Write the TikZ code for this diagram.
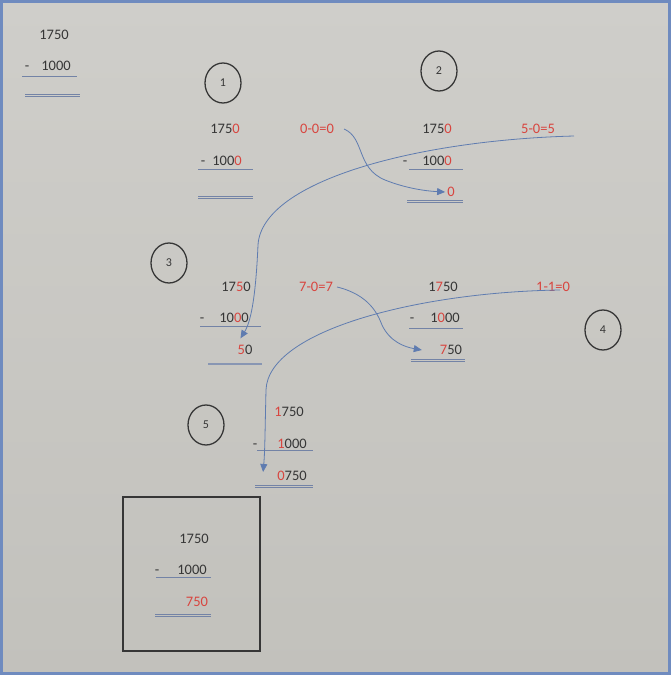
\documentclass[tikz,border=0pt]{standalone}
\usepackage{fontspec}
\setmainfont{Carlito}
\usepackage{xcolor}
\usetikzlibrary{arrows.meta, positioning, shapes.geometric}

\definecolor{digitred}{HTML}{D8453F}
\definecolor{digitgray}{HTML}{363636}
\definecolor{rulecol}{HTML}{7383A6}
\definecolor{arrowcol}{HTML}{5F7CB0}
\definecolor{framecol}{HTML}{6F8BBF}
\definecolor{bgtop}{HTML}{CFCECA}
\definecolor{bgbottom}{HTML}{C2C1BC}
\newcommand{\rd}[1]{\textcolor{digitred}{#1}}

\begin{document}
\begin{tikzpicture}[x=1pt, y=-1pt,
  num/.style={text=digitgray, font=\fontsize{14.5}{16}\selectfont, inner sep=0pt,
    text height=9pt, text depth=0pt},
  stepmark/.style={draw=digitgray, ellipse, line width=1.3pt, minimum width=36pt,
    minimum height=40pt, inner sep=0pt, text=digitgray, font=\fontsize{12}{14}\selectfont},
  rule/.style={draw=rulecol, line width=0.9pt},
  flow/.style={draw=arrowcol, line width=0.8pt, -{Triangle[length=8pt, width=7pt]}}
]
  \useasboundingbox (0,0) rectangle (671,675);
  % Background and frame
  \shade[top color=bgtop, bottom color=bgbottom] (0,0) rectangle (671,675);
  \draw[framecol, line width=3pt] (1.5,1.5) rectangle (669.5,673.5);

  % Step marks
  \foreach \n/\x/\y in {1/223/83, 2/439/71, 3/169/263, 4/603/330, 5/206/425}{
    \node[stepmark] (s\n) at (\x,\y) {\n};
  }

  % Starting sum
  \node[num] (a1) at (54,35) {1750};
  \node[num] (am) at (27,66) {-};
  \node[num] (a2) at (56,66) {1000};
  \draw[rule] (22,76) -- (77,76);

  % Step 1
  \node[num] (b1) at (225,129) {175\rd{0}};
  \node[num] (beq) at (317,129) {\rd{0-0=0}};
  \node[num] (bm) at (203,161) {-};
  \node[num] (b2) at (227,161) {100\rd{0}};
  \draw[rule] (198,169) -- (253,169);

  % Step 2
  \node[num] (c1) at (437,129) {175\rd{0}};
  \node[num] (ceq) at (538,129) {\rd{5-0=5}};
  \node[num] (cm) at (405,161) {-};
  \node[num] (c2) at (437,161) {100\rd{0}};
  \draw[rule] (409,169) -- (463,169);
  \node[num] (c3) at (451,192) {\rd{0}};

  % Step 3
  \node[num] (d1) at (236,287) {17\rd{5}0};
  \node[num] (deq) at (316,287) {\rd{7-0=7}};
  \node[num] (dm) at (202,318) {-};
  \node[num] (d2) at (234,318) {10\rd{0}0};
  \draw[rule] (200,326) -- (261,326);
  \node[num] (d3) at (245,350) {\rd{5}0};
  \draw[rule, line width=2.5pt, draw=rulecol!85] (208,364) -- (262,364);

  % Step 4
  \node[num] (e1) at (443,287) {1\rd{7}50};
  \node[num] (eeq) at (553,287) {\rd{1-1=0}};
  \node[num] (em) at (412,318) {-};
  \node[num] (e2) at (445,318) {1\rd{0}00};
  \draw[rule] (409,328) -- (463,328);
  \node[num] (e3) at (451,350) {\rd{7}50};

  % Step 5
  \node[num] (f1) at (289,412) {\rd{1}750};
  \node[num] (fm) at (255,444) {-};
  \node[num] (f2) at (292,444) {\rd{1}000};
  \draw[rule] (257,450) -- (313,450);
  \node[num] (f3) at (292,476) {\rd{0}750};

  % Result
  \draw[draw=digitgray, line width=1.3pt] (123,497) rectangle (260,651);
  \node[num] (g1) at (194,539) {1750};
  \node[num] (gm) at (157,570) {-};
  \node[num] (g2) at (192,570) {1000};
  \draw[rule] (156,577) -- (211,577);
  \node[num] (g3) at (197,602) {\rd{750}};

  % Double rules
  \foreach \xa/\xb/\y in {25/80/94, 198/253/196, 407/463/200, 411/465/359, 255/313/485, 155/211/614}{
    \draw[rule] (\xa,\y) -- (\xb,\y);
    \draw[rule] (\xa,\y+2.6) -- (\xb,\y+2.6);
  }

  % Carries
  \coordinate (ctail) at (574,136);
  \coordinate (etail) at (560,290);
  \draw[flow] ([xshift=10pt]beq.east) .. controls (365,138) and (356,168) .. (385,180)
    .. controls (405,188) and (425,191) .. ([xshift=-2pt]c3.west);
  \draw[flow] (ctail) .. controls (420,140) and (262,180) .. (258,245)
    .. controls (256,290) and (252,320) .. ([shift={(3,-7)}]d3.north west);
  \draw[flow] ([xshift=4pt]deq.east) .. controls (370,295) and (378,315) .. (382,325)
    .. controls (390,342) and (405,347) .. ([xshift=-18pt]e3.west);
  \draw[flow] (etail) .. controls (420,292) and (268,330) .. (266,390)
    .. controls (265,430) and (265,450) .. ([shift={(-14,-4)}]f3.west);
\end{tikzpicture}
\end{document}
